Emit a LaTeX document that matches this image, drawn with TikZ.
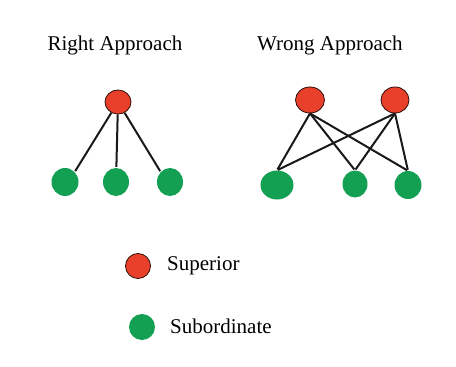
\documentclass[tikz,border=0pt]{standalone}
\usepackage{fontspec}
\setmainfont{Liberation Serif}
\usetikzlibrary{shapes.geometric}
\definecolor{supred}{HTML}{E8402A}
\definecolor{subgreen}{HTML}{14A052}
\begin{document}
\begin{tikzpicture}[x=1pt,y=-1pt,
  sup/.style={ellipse,fill=supred,draw=black!80!supred,line width=0.8pt,inner sep=0pt},
  sub/.style={ellipse,fill=subgreen,draw=none,inner sep=0pt},
  link/.style={line width=2pt,black!90,shorten >=1pt},
  lbl/.style={font=\fontsize{21}{24}\selectfont,inner sep=0pt}]
\useasboundingbox (0,0) rectangle (456,367);
\fill[white] (0,0) rectangle (456,367);
% titles
\node[lbl] (t1) at (115,45) {Right Approach};
\node[lbl] (t2) at (330,45) {Wrong Approach};
% right approach
\node[sup,minimum width=26pt,minimum height=24pt] (r0) at (118,102) {};
\node[sub,minimum width=27pt,minimum height=28pt] (g1) at (65,182) {};
\node[sub,minimum width=26pt,minimum height=28pt] (g2) at (116,182) {};
\node[sub,minimum width=26pt,minimum height=28pt] (g3) at (170,182) {};
\draw[link] (r0) -- (g1.north east);
\draw[link] (r0) -- (g2);
\draw[link] (r0) -- (g3.north west);
% wrong approach
\node[sup,minimum width=29pt,minimum height=26pt] (w1) at (310,100) {};
\node[sup,minimum width=28pt,minimum height=26pt] (w2) at (395,100) {};
\node[sub,minimum width=33pt,minimum height=29pt] (h1) at (277,185) {};
\node[sub,minimum width=25pt,minimum height=27pt] (h2) at (355,184) {};
\node[sub,minimum width=27pt,minimum height=28pt] (h3) at (408,185) {};
\draw[link] (w1.south) -- (h1.north);
\draw[link] (w1.south) -- (h2.north);
\draw[link] (w1.south) -- (h3.north);
\draw[link] (w2.south) -- (h1.north);
\draw[link] (w2.south) -- (h2.north);
\draw[link] (w2.south) -- (h3.north);
% legend
\node[sup,minimum width=25pt,minimum height=25pt] (ls) at (138,266) {};
\node[lbl,anchor=west] (lst) at (167,266) {Superior};
\node[sub,minimum width=26pt,minimum height=26pt] (lg) at (142,327) {};
\node[lbl,anchor=west] (lgt) at (170,326) {Subordinate};
\end{tikzpicture}
\end{document}
